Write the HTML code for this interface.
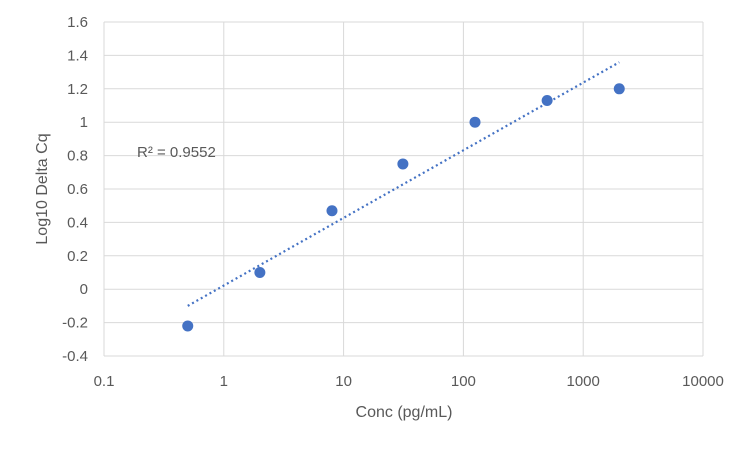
<!DOCTYPE html>
<html><head><meta charset="utf-8"><style>
html,body{margin:0;padding:0;background:#fff;}
svg{display:block;font-family:"Liberation Sans",sans-serif;}
</style></head><body>
<svg id="chart" width="750" height="450"></svg>
<script>
const xValues=[0.5,2,8,31.25,125,500,2000];
const yValues=[-0.22,0.10,0.47,0.75,1.00,1.13,1.20];
const xTicks=[0.1,1,10,100,1000,10000];
const xTickLabels=["0.1","1","10","100","1000","10000"];
const yTicks=[-0.4,-0.2,0,0.2,0.4,0.6,0.8,1,1.2,1.4,1.6];
const yTickLabels=["-0.4","-0.2","0","0.2","0.4","0.6","0.8","1","1.2","1.4","1.6"];
const trendSlope=0.405, trendIntercept=0.022;
const r2Label="R² = 0.9552";

const L=104,R=703,T=22,B=356;
const xs=v=>L+(Math.log10(v)+1)/5*(R-L);
const ys=v=>B-(v+0.4)/2*(B-T);
const svg=document.getElementById('chart');
const NS='http://www.w3.org/2000/svg';
function mk(tag,attrs,text){const e=document.createElementNS(NS,tag);for(const k in attrs)e.setAttribute(k,attrs[k]);if(text!==undefined)e.textContent=text;svg.appendChild(e);return e;}

yTicks.forEach((v,i)=>{
  const g=mk('line',{x1:L,x2:R,y1:ys(v),y2:ys(v),stroke:'#d9d9d9','stroke-width':1});
  
  
  const t=mk('text',{x:L-16,y:ys(v)+5,'text-anchor':'end','font-size':15,fill:'#595959'},yTickLabels[i]);
  
  
});
xTicks.forEach((v,i)=>{
  const g=mk('line',{x1:xs(v),x2:xs(v),y1:T,y2:B,stroke:'#d9d9d9','stroke-width':1});
  
  
  const t=mk('text',{x:xs(v),y:B+30,'text-anchor':'middle','font-size':15,fill:'#595959'},xTickLabels[i]);
  
  
});

const x0=xValues[0],x1=xValues[xValues.length-1];
const tl=mk('line',{x1:xs(x0),y1:ys(trendSlope*Math.log10(x0)+trendIntercept),x2:xs(x1),y2:ys(trendSlope*Math.log10(x1)+trendIntercept),stroke:'#4472c4','stroke-width':2.2,'stroke-dasharray':'2 3'});



xValues.forEach((v,i)=>{
  const c=mk('circle',{cx:xs(v),cy:ys(yValues[i]),r:5.5,fill:'#4472c4'});
  
  
});

const r2=mk('text',{x:137,y:157,'font-size':15,fill:'#595959'},r2Label);


const xt=mk('text',{x:404,y:417,'text-anchor':'middle','font-size':16,fill:'#595959'},'Conc (pg/mL)');


const yt=mk('text',{x:0,y:0,'text-anchor':'middle','font-size':16,fill:'#595959',transform:'translate(47,189) rotate(-90)'},'Log10 Delta Cq');


</script>
</body></html>
